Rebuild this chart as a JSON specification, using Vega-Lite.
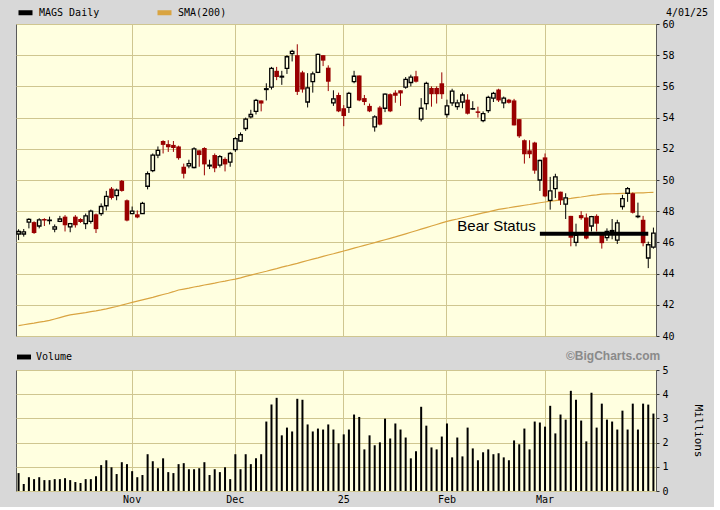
{
"$schema": "https://vega.github.io/schema/vega-lite/v6.json",
"background": "#d8d8d8",
"padding": {"left": 15, "top": 2, "right": 4, "bottom": 2},
"spacing": 6,
"datasets": {
"px": [
{"d":"2024-10-02","o":46.54,"h":46.84,"l":46.15,"c":46.7,"v":0.74,"s":40.66},
{"d":"2024-10-03","o":46.54,"h":46.86,"l":46.37,"c":46.67,"v":0.29,"s":40.72},
{"d":"2024-10-04","o":47.3,"h":47.55,"l":46.9,"c":47.48,"v":0.57,"s":40.78},
{"d":"2024-10-07","o":47.3,"h":47.35,"l":46.55,"c":46.6,"v":0.49,"s":40.83},
{"d":"2024-10-08","o":47.05,"h":47.55,"l":46.9,"c":47.45,"v":0.57,"s":40.89},
{"d":"2024-10-09","o":47.5,"h":47.55,"l":47.05,"c":47.4,"v":0.45,"s":40.94},
{"d":"2024-10-10","o":47.4,"h":47.65,"l":47.15,"c":47.43,"v":0.45,"s":41.0},
{"d":"2024-10-11","o":46.85,"h":47.15,"l":46.65,"c":47.0,"v":0.49,"s":41.09},
{"d":"2024-10-14","o":47.35,"h":47.7,"l":47.3,"c":47.5,"v":0.49,"s":41.18},
{"d":"2024-10-15","o":47.65,"h":47.75,"l":46.7,"c":47.1,"v":0.53,"s":41.27},
{"d":"2024-10-16","o":47.0,"h":47.25,"l":46.65,"c":47.2,"v":0.45,"s":41.35},
{"d":"2024-10-17","o":47.65,"h":47.75,"l":46.95,"c":47.1,"v":0.37,"s":41.4},
{"d":"2024-10-18","o":47.5,"h":47.55,"l":47.25,"c":47.3,"v":0.33,"s":41.45},
{"d":"2024-10-21","o":47.2,"h":47.85,"l":46.85,"c":47.7,"v":0.49,"s":41.5},
{"d":"2024-10-22","o":47.35,"h":48.1,"l":47.2,"c":48.0,"v":0.49,"s":41.56},
{"d":"2024-10-23","o":47.8,"h":47.85,"l":46.6,"c":46.85,"v":0.61,"s":41.61},
{"d":"2024-10-24","o":47.85,"h":48.5,"l":47.7,"c":48.3,"v":1.07,"s":41.67},
{"d":"2024-10-25","o":48.35,"h":49.3,"l":48.05,"c":48.95,"v":1.27,"s":41.74},
{"d":"2024-10-28","o":49.45,"h":49.55,"l":48.75,"c":48.85,"v":0.98,"s":41.82},
{"d":"2024-10-29","o":49.0,"h":49.45,"l":48.7,"c":49.35,"v":0.70,"s":41.89},
{"d":"2024-10-30","o":49.95,"h":50.0,"l":49.25,"c":49.3,"v":1.19,"s":41.98},
{"d":"2024-10-31","o":48.7,"h":48.75,"l":47.35,"c":47.4,"v":1.11,"s":42.07},
{"d":"2024-11-01","o":47.85,"h":48.3,"l":47.85,"c":48.0,"v":0.82,"s":42.16},
{"d":"2024-11-04","o":47.8,"h":48.05,"l":47.55,"c":47.6,"v":0.57,"s":42.24},
{"d":"2024-11-05","o":47.85,"h":48.6,"l":47.85,"c":48.5,"v":0.66,"s":42.32},
{"d":"2024-11-06","o":49.6,"h":50.55,"l":49.4,"c":50.4,"v":1.52,"s":42.4},
{"d":"2024-11-07","o":50.6,"h":51.7,"l":50.5,"c":51.6,"v":1.23,"s":42.48},
{"d":"2024-11-08","o":51.6,"h":52.15,"l":51.4,"c":51.9,"v":0.94,"s":42.57},
{"d":"2024-11-11","o":52.5,"h":52.55,"l":51.7,"c":52.25,"v":1.35,"s":42.66},
{"d":"2024-11-12","o":52.3,"h":52.55,"l":51.8,"c":52.1,"v":0.78,"s":42.74},
{"d":"2024-11-13","o":52.25,"h":52.5,"l":51.8,"c":52.05,"v":0.74,"s":42.84},
{"d":"2024-11-14","o":52.15,"h":52.2,"l":51.3,"c":51.4,"v":1.11,"s":42.95},
{"d":"2024-11-15","o":50.85,"h":51.05,"l":50.1,"c":50.4,"v":1.15,"s":43.01},
{"d":"2024-11-18","o":50.9,"h":51.3,"l":50.75,"c":51.05,"v":0.90,"s":43.07},
{"d":"2024-11-19","o":50.8,"h":52.1,"l":50.75,"c":52.0,"v":0.90,"s":43.14},
{"d":"2024-11-20","o":51.9,"h":51.9,"l":50.85,"c":51.6,"v":0.94,"s":43.2},
{"d":"2024-11-21","o":52.05,"h":52.1,"l":50.3,"c":51.0,"v":1.19,"s":43.27},
{"d":"2024-11-22","o":50.9,"h":51.3,"l":50.7,"c":50.95,"v":0.66,"s":43.33},
{"d":"2024-11-25","o":51.6,"h":51.7,"l":50.5,"c":50.75,"v":0.90,"s":43.39},
{"d":"2024-11-26","o":50.95,"h":51.6,"l":50.8,"c":51.5,"v":0.78,"s":43.46},
{"d":"2024-11-27","o":51.35,"h":51.45,"l":50.55,"c":51.0,"v":0.98,"s":43.52},
{"d":"2024-11-29","o":51.15,"h":51.8,"l":50.85,"c":51.7,"v":0.49,"s":43.59},
{"d":"2024-12-02","o":51.95,"h":52.75,"l":51.8,"c":52.65,"v":1.52,"s":43.65},
{"d":"2024-12-03","o":52.5,"h":53.05,"l":52.45,"c":52.9,"v":0.90,"s":43.73},
{"d":"2024-12-04","o":53.3,"h":54.0,"l":53.15,"c":53.9,"v":1.52,"s":43.82},
{"d":"2024-12-05","o":54.05,"h":54.5,"l":53.95,"c":54.2,"v":1.11,"s":43.9},
{"d":"2024-12-06","o":54.4,"h":55.2,"l":54.2,"c":55.1,"v":1.35,"s":43.99},
{"d":"2024-12-09","o":55.1,"h":55.1,"l":54.4,"c":54.9,"v":1.52,"s":44.07},
{"d":"2024-12-10","o":55.8,"h":56.2,"l":55.1,"c":55.85,"v":2.87,"s":44.15},
{"d":"2024-12-11","o":55.95,"h":57.25,"l":55.8,"c":57.15,"v":3.57,"s":44.24},
{"d":"2024-12-12","o":57.0,"h":57.25,"l":56.4,"c":56.6,"v":3.85,"s":44.32},
{"d":"2024-12-13","o":56.6,"h":57.0,"l":56.1,"c":56.65,"v":2.30,"s":44.41},
{"d":"2024-12-16","o":57.15,"h":58.0,"l":56.8,"c":57.9,"v":2.62,"s":44.49},
{"d":"2024-12-17","o":58.1,"h":58.35,"l":57.6,"c":58.25,"v":2.46,"s":44.58},
{"d":"2024-12-18","o":58.0,"h":58.7,"l":55.45,"c":55.65,"v":3.81,"s":44.66},
{"d":"2024-12-19","o":56.9,"h":57.0,"l":55.6,"c":55.8,"v":3.77,"s":44.75},
{"d":"2024-12-20","o":55.0,"h":56.85,"l":54.65,"c":55.9,"v":2.75,"s":44.84},
{"d":"2024-12-23","o":56.3,"h":56.95,"l":55.6,"c":56.8,"v":2.46,"s":44.93},
{"d":"2024-12-24","o":56.9,"h":58.1,"l":56.85,"c":58.05,"v":2.58,"s":45.01},
{"d":"2024-12-26","o":58.0,"h":58.0,"l":57.3,"c":57.65,"v":2.54,"s":45.1},
{"d":"2024-12-27","o":57.2,"h":57.35,"l":55.7,"c":56.3,"v":2.75,"s":45.19},
{"d":"2024-12-30","o":54.95,"h":55.75,"l":54.75,"c":55.2,"v":2.54,"s":45.27},
{"d":"2024-12-31","o":55.45,"h":55.6,"l":54.35,"c":54.4,"v":1.97,"s":45.36},
{"d":"2025-01-02","o":54.6,"h":54.8,"l":53.45,"c":54.1,"v":2.34,"s":45.45},
{"d":"2025-01-03","o":54.65,"h":55.65,"l":54.3,"c":55.55,"v":2.54,"s":45.54},
{"d":"2025-01-06","o":56.3,"h":57.0,"l":56.2,"c":56.65,"v":3.16,"s":45.63},
{"d":"2025-01-07","o":56.7,"h":56.7,"l":55.05,"c":55.1,"v":3.06,"s":45.72},
{"d":"2025-01-08","o":55.25,"h":55.45,"l":54.8,"c":55.0,"v":1.72,"s":45.81},
{"d":"2025-01-10","o":54.75,"h":54.9,"l":54.35,"c":54.4,"v":2.30,"s":45.9},
{"d":"2025-01-13","o":53.4,"h":54.15,"l":53.1,"c":54.05,"v":1.89,"s":45.99},
{"d":"2025-01-14","o":54.65,"h":54.75,"l":53.5,"c":53.55,"v":2.01,"s":46.08},
{"d":"2025-01-15","o":54.6,"h":55.55,"l":54.35,"c":55.5,"v":2.99,"s":46.17},
{"d":"2025-01-16","o":55.5,"h":55.55,"l":54.35,"c":54.4,"v":2.17,"s":46.26},
{"d":"2025-01-17","o":55.6,"h":55.75,"l":54.95,"c":55.4,"v":2.79,"s":46.35},
{"d":"2025-01-21","o":55.75,"h":55.75,"l":54.75,"c":55.55,"v":2.54,"s":46.45},
{"d":"2025-01-22","o":55.95,"h":56.6,"l":55.85,"c":56.45,"v":2.21,"s":46.55},
{"d":"2025-01-23","o":56.25,"h":56.75,"l":56.0,"c":56.6,"v":1.35,"s":46.65},
{"d":"2025-01-24","o":56.65,"h":57.0,"l":56.25,"c":56.3,"v":1.64,"s":46.75},
{"d":"2025-01-27","o":53.9,"h":55.25,"l":53.75,"c":54.6,"v":3.48,"s":46.85},
{"d":"2025-01-28","o":54.9,"h":56.3,"l":54.5,"c":56.2,"v":2.70,"s":46.95},
{"d":"2025-01-29","o":55.9,"h":56.0,"l":54.7,"c":55.5,"v":1.80,"s":47.05},
{"d":"2025-01-30","o":55.9,"h":56.0,"l":54.9,"c":55.5,"v":1.72,"s":47.15},
{"d":"2025-01-31","o":56.2,"h":56.9,"l":55.2,"c":55.5,"v":2.25,"s":47.25},
{"d":"2025-02-03","o":54.2,"h":55.15,"l":54.0,"c":54.75,"v":2.79,"s":47.35},
{"d":"2025-02-04","o":54.95,"h":55.85,"l":54.75,"c":55.7,"v":1.39,"s":47.43},
{"d":"2025-02-05","o":54.7,"h":55.15,"l":54.5,"c":54.95,"v":2.21,"s":47.5},
{"d":"2025-02-06","o":55.0,"h":55.6,"l":54.6,"c":55.45,"v":1.43,"s":47.58},
{"d":"2025-02-07","o":55.15,"h":55.5,"l":54.2,"c":54.25,"v":2.62,"s":47.66},
{"d":"2025-02-10","o":54.55,"h":55.05,"l":54.5,"c":54.57,"v":1.76,"s":47.73},
{"d":"2025-02-11","o":54.4,"h":54.7,"l":54.0,"c":54.3,"v":1.27,"s":47.81},
{"d":"2025-02-12","o":53.8,"h":54.4,"l":53.7,"c":54.25,"v":1.60,"s":47.89},
{"d":"2025-02-13","o":54.45,"h":55.4,"l":54.3,"c":55.3,"v":1.72,"s":47.96},
{"d":"2025-02-14","o":55.25,"h":55.65,"l":55.0,"c":55.55,"v":1.52,"s":48.04},
{"d":"2025-02-18","o":55.8,"h":55.85,"l":55.0,"c":55.1,"v":1.56,"s":48.12},
{"d":"2025-02-19","o":54.95,"h":55.35,"l":54.6,"c":55.25,"v":1.39,"s":48.17},
{"d":"2025-02-20","o":55.15,"h":55.2,"l":54.9,"c":54.95,"v":1.27,"s":48.22},
{"d":"2025-02-21","o":55.1,"h":55.2,"l":53.5,"c":53.5,"v":2.09,"s":48.28},
{"d":"2025-02-24","o":53.9,"h":53.9,"l":52.7,"c":52.8,"v":1.93,"s":48.33},
{"d":"2025-02-25","o":52.55,"h":52.6,"l":51.05,"c":51.65,"v":2.58,"s":48.38},
{"d":"2025-02-26","o":51.9,"h":52.55,"l":51.4,"c":51.65,"v":1.72,"s":48.43},
{"d":"2025-02-27","o":52.4,"h":52.45,"l":50.4,"c":50.6,"v":2.87,"s":48.49},
{"d":"2025-02-28","o":50.0,"h":51.3,"l":49.3,"c":51.25,"v":2.83,"s":48.54},
{"d":"2025-03-03","o":51.45,"h":51.7,"l":48.9,"c":48.95,"v":2.66,"s":48.59},
{"d":"2025-03-04","o":48.7,"h":50.2,"l":48.1,"c":49.3,"v":3.52,"s":48.64},
{"d":"2025-03-05","o":49.45,"h":50.4,"l":48.85,"c":50.2,"v":2.38,"s":48.68},
{"d":"2025-03-06","o":49.25,"h":49.25,"l":48.4,"c":48.7,"v":3.16,"s":48.73},
{"d":"2025-03-07","o":48.45,"h":49.15,"l":47.5,"c":48.85,"v":2.95,"s":48.78},
{"d":"2025-03-10","o":47.7,"h":47.7,"l":45.75,"c":46.3,"v":4.14,"s":48.82},
{"d":"2025-03-11","o":46.0,"h":47.2,"l":45.75,"c":46.45,"v":3.77,"s":48.87},
{"d":"2025-03-12","o":47.75,"h":48.0,"l":47.45,"c":47.55,"v":2.91,"s":48.91},
{"d":"2025-03-13","o":47.6,"h":47.85,"l":46.2,"c":46.25,"v":2.05,"s":48.96},
{"d":"2025-03-14","o":47.05,"h":47.7,"l":46.7,"c":47.65,"v":4.06,"s":49.01},
{"d":"2025-03-17","o":47.7,"h":47.8,"l":46.7,"c":47.2,"v":2.62,"s":49.05},
{"d":"2025-03-18","o":46.5,"h":46.5,"l":45.6,"c":45.95,"v":3.61,"s":49.1},
{"d":"2025-03-19","o":46.3,"h":46.9,"l":46.1,"c":46.7,"v":2.95,"s":49.11},
{"d":"2025-03-20","o":46.7,"h":47.5,"l":46.2,"c":46.76,"v":2.87,"s":49.12},
{"d":"2025-03-21","o":46.15,"h":47.45,"l":45.9,"c":47.25,"v":2.54,"s":49.13},
{"d":"2025-03-24","o":48.3,"h":49.05,"l":48.1,"c":48.8,"v":3.32,"s":49.14},
{"d":"2025-03-25","o":49.15,"h":49.55,"l":48.6,"c":49.45,"v":2.54,"s":49.15},
{"d":"2025-03-26","o":49.15,"h":49.2,"l":47.85,"c":47.9,"v":3.61,"s":49.16},
{"d":"2025-03-27","o":47.65,"h":48.55,"l":47.55,"c":47.68,"v":2.54,"s":49.17},
{"d":"2025-03-28","o":47.45,"h":47.7,"l":45.75,"c":45.95,"v":3.61,"s":49.18},
{"d":"2025-03-31","o":45.0,"h":46.05,"l":44.35,"c":45.85,"v":3.57,"s":49.2},
{"d":"2025-04-01","o":45.7,"h":46.95,"l":45.6,"c":46.6,"v":3.20,"s":49.21}
],
"bear": [{"start":"2025-02-28","end":"2025-03-31","level":46.55,"label":"Bear Status","at":"2025-02-05","ty":47.05}]
},
"data": {"name": "px"},
"config": {
  "view": {"fill": "#ffffe0", "stroke": "#5a5a5a", "strokeWidth": 1},
  "axis": {"labelFont": "DejaVu Sans Mono", "labelFontSize": 10, "labelColor": "#000000", "labelOverlap": false, "gridColor": "#cfc690", "gridWidth": 1, "domain": false, "tickColor": "#333333", "titleFont": "DejaVu Sans Mono", "titleFontWeight": "normal", "titleFontSize": 11, "titleColor": "#000000"},
  "legend": {"labelFont": "DejaVu Sans Mono", "labelFontSize": 10, "labelColor": "#000000", "padding": 0}
},
"resolve": {"scale": {"color": "independent"}},
"vconcat": [
{
  "width": 640, "height": 312,
  "layer": [
    {
      "mark": {"type": "line", "strokeWidth": 1.2, "interpolate": "linear"},
      "encoding": {
        "x": {"field": "d", "type": "ordinal", "scale": {"paddingInner": 0, "paddingOuter": 0}, "axis": {"values": ["2024-11-01","2024-12-02","2025-01-02","2025-02-03","2025-03-03"], "labels": false, "ticks": false, "title": null, "grid": true, "domain": false}},
        "y": {"field": "s", "type": "quantitative", "scale": {"domain": [40, 60], "nice": false, "zero": false}, "axis": {"orient": "right", "values": [40,42,44,46,48,50,52,54,56,58,60], "tickCount": 11, "title": null, "grid": true, "tickSize": 3, "labelPadding": 3, "labelOverlap": false}},
        "color": {"datum": "SMA(200)", "scale": {"domain": ["MAGS Daily", "SMA(200)"], "range": ["#000000", "#d9a441"]},
          "legend": {"orient": "top", "direction": "horizontal", "title": "4/01/25", "titleOrient": "right", "titlePadding": 440, "titleFont": "DejaVu Sans Mono", "titleFontSize": 10, "titleFontWeight": "normal", "titleColor": "#000000", "symbolType": "stroke", "symbolStrokeWidth": 5, "symbolSize": 196, "columnPadding": 47, "offset": 1, "labelOffset": 4}}
      }
    },
    {
      "transform": [{"filter": "datum.c >= datum.o"}],
      "mark": {"type": "rule", "strokeWidth": 1},
      "encoding": {
        "x": {"field": "d", "type": "ordinal"},
        "y": {"field": "l", "type": "quantitative"},
        "y2": {"field": "h"},
        "color": {"datum": "MAGS Daily", "scale": {"domain": ["MAGS Daily", "SMA(200)"], "range": ["#000000", "#d9a441"]}}
      }
    },
    {
      "transform": [{"filter": "datum.c < datum.o"}],
      "mark": {"type": "rule", "strokeWidth": 1, "color": "#990000"},
      "encoding": {
        "x": {"field": "d", "type": "ordinal"},
        "y": {"field": "l", "type": "quantitative"},
        "y2": {"field": "h"}
      }
    },
    {
      "transform": [{"filter": "datum.c >= datum.o"}],
      "mark": {"type": "bar", "width": 3.5, "fill": "#ffffe0", "stroke": "#000000", "strokeWidth": 1.3},
      "encoding": {
        "x": {"field": "d", "type": "ordinal"},
        "y": {"field": "o", "type": "quantitative"},
        "y2": {"field": "c"}
      }
    },
    {
      "transform": [{"filter": "datum.c < datum.o"}],
      "mark": {"type": "bar", "width": 4.6, "fill": "#990000"},
      "encoding": {
        "x": {"field": "d", "type": "ordinal"},
        "y": {"field": "o", "type": "quantitative"},
        "y2": {"field": "c"}
      }
    },
    {
      "data": {"name": "bear"},
      "mark": {"type": "rule", "strokeWidth": 4, "color": "#000000"},
      "encoding": {
        "x": {"field": "start", "type": "ordinal"},
        "x2": {"field": "end"},
        "y": {"field": "level", "type": "quantitative"}
      }
    },
    {
      "data": {"name": "bear"},
      "mark": {"type": "text", "align": "left", "baseline": "middle", "font": "Liberation Sans", "fontSize": 15, "color": "#000000"},
      "encoding": {
        "x": {"field": "at", "type": "ordinal"},
        "y": {"field": "ty", "type": "quantitative"},
        "text": {"field": "label"}
      }
    }
  ]
},
{
  "width": 640, "height": 121,
  "mark": {"type": "bar", "width": 2},
  "encoding": {
    "x": {"field": "d", "type": "ordinal", "scale": {"paddingInner": 0, "paddingOuter": 0}, "axis": {"values": ["2024-11-01","2024-12-02","2025-01-02","2025-02-03","2025-03-03"], "labelExpr": "datum.value == '2024-11-01' ? 'Nov' : datum.value == '2024-12-02' ? 'Dec' : datum.value == '2025-01-02' ? '25' : datum.value == '2025-02-03' ? 'Feb' : 'Mar'", "labelAngle": 0, "ticks": false, "title": null, "grid": true, "domain": false, "labelPadding": 3}},
    "y": {"field": "v", "type": "quantitative", "scale": {"domain": [0, 5], "nice": false}, "axis": {"orient": "right", "values": [0,1,2,3,4,5], "tickCount": 6, "title": "Millions", "titlePadding": 24, "grid": true, "tickSize": 3, "labelPadding": 3}},
    "color": {"datum": "Volume", "scale": {"range": ["#000000"]},
      "legend": {"orient": "top", "direction": "horizontal", "title": "©BigCharts.com", "titleOrient": "right", "titlePadding": 494, "titleFont": "Liberation Sans", "titleFontSize": 12, "titleFontWeight": "bold", "titleColor": "#8a8a8a", "symbolType": "M-1,-0.35H1V0.35H-1Z", "symbolSize": 196, "offset": 8, "labelOffset": 4}}
  }
}
]
}
